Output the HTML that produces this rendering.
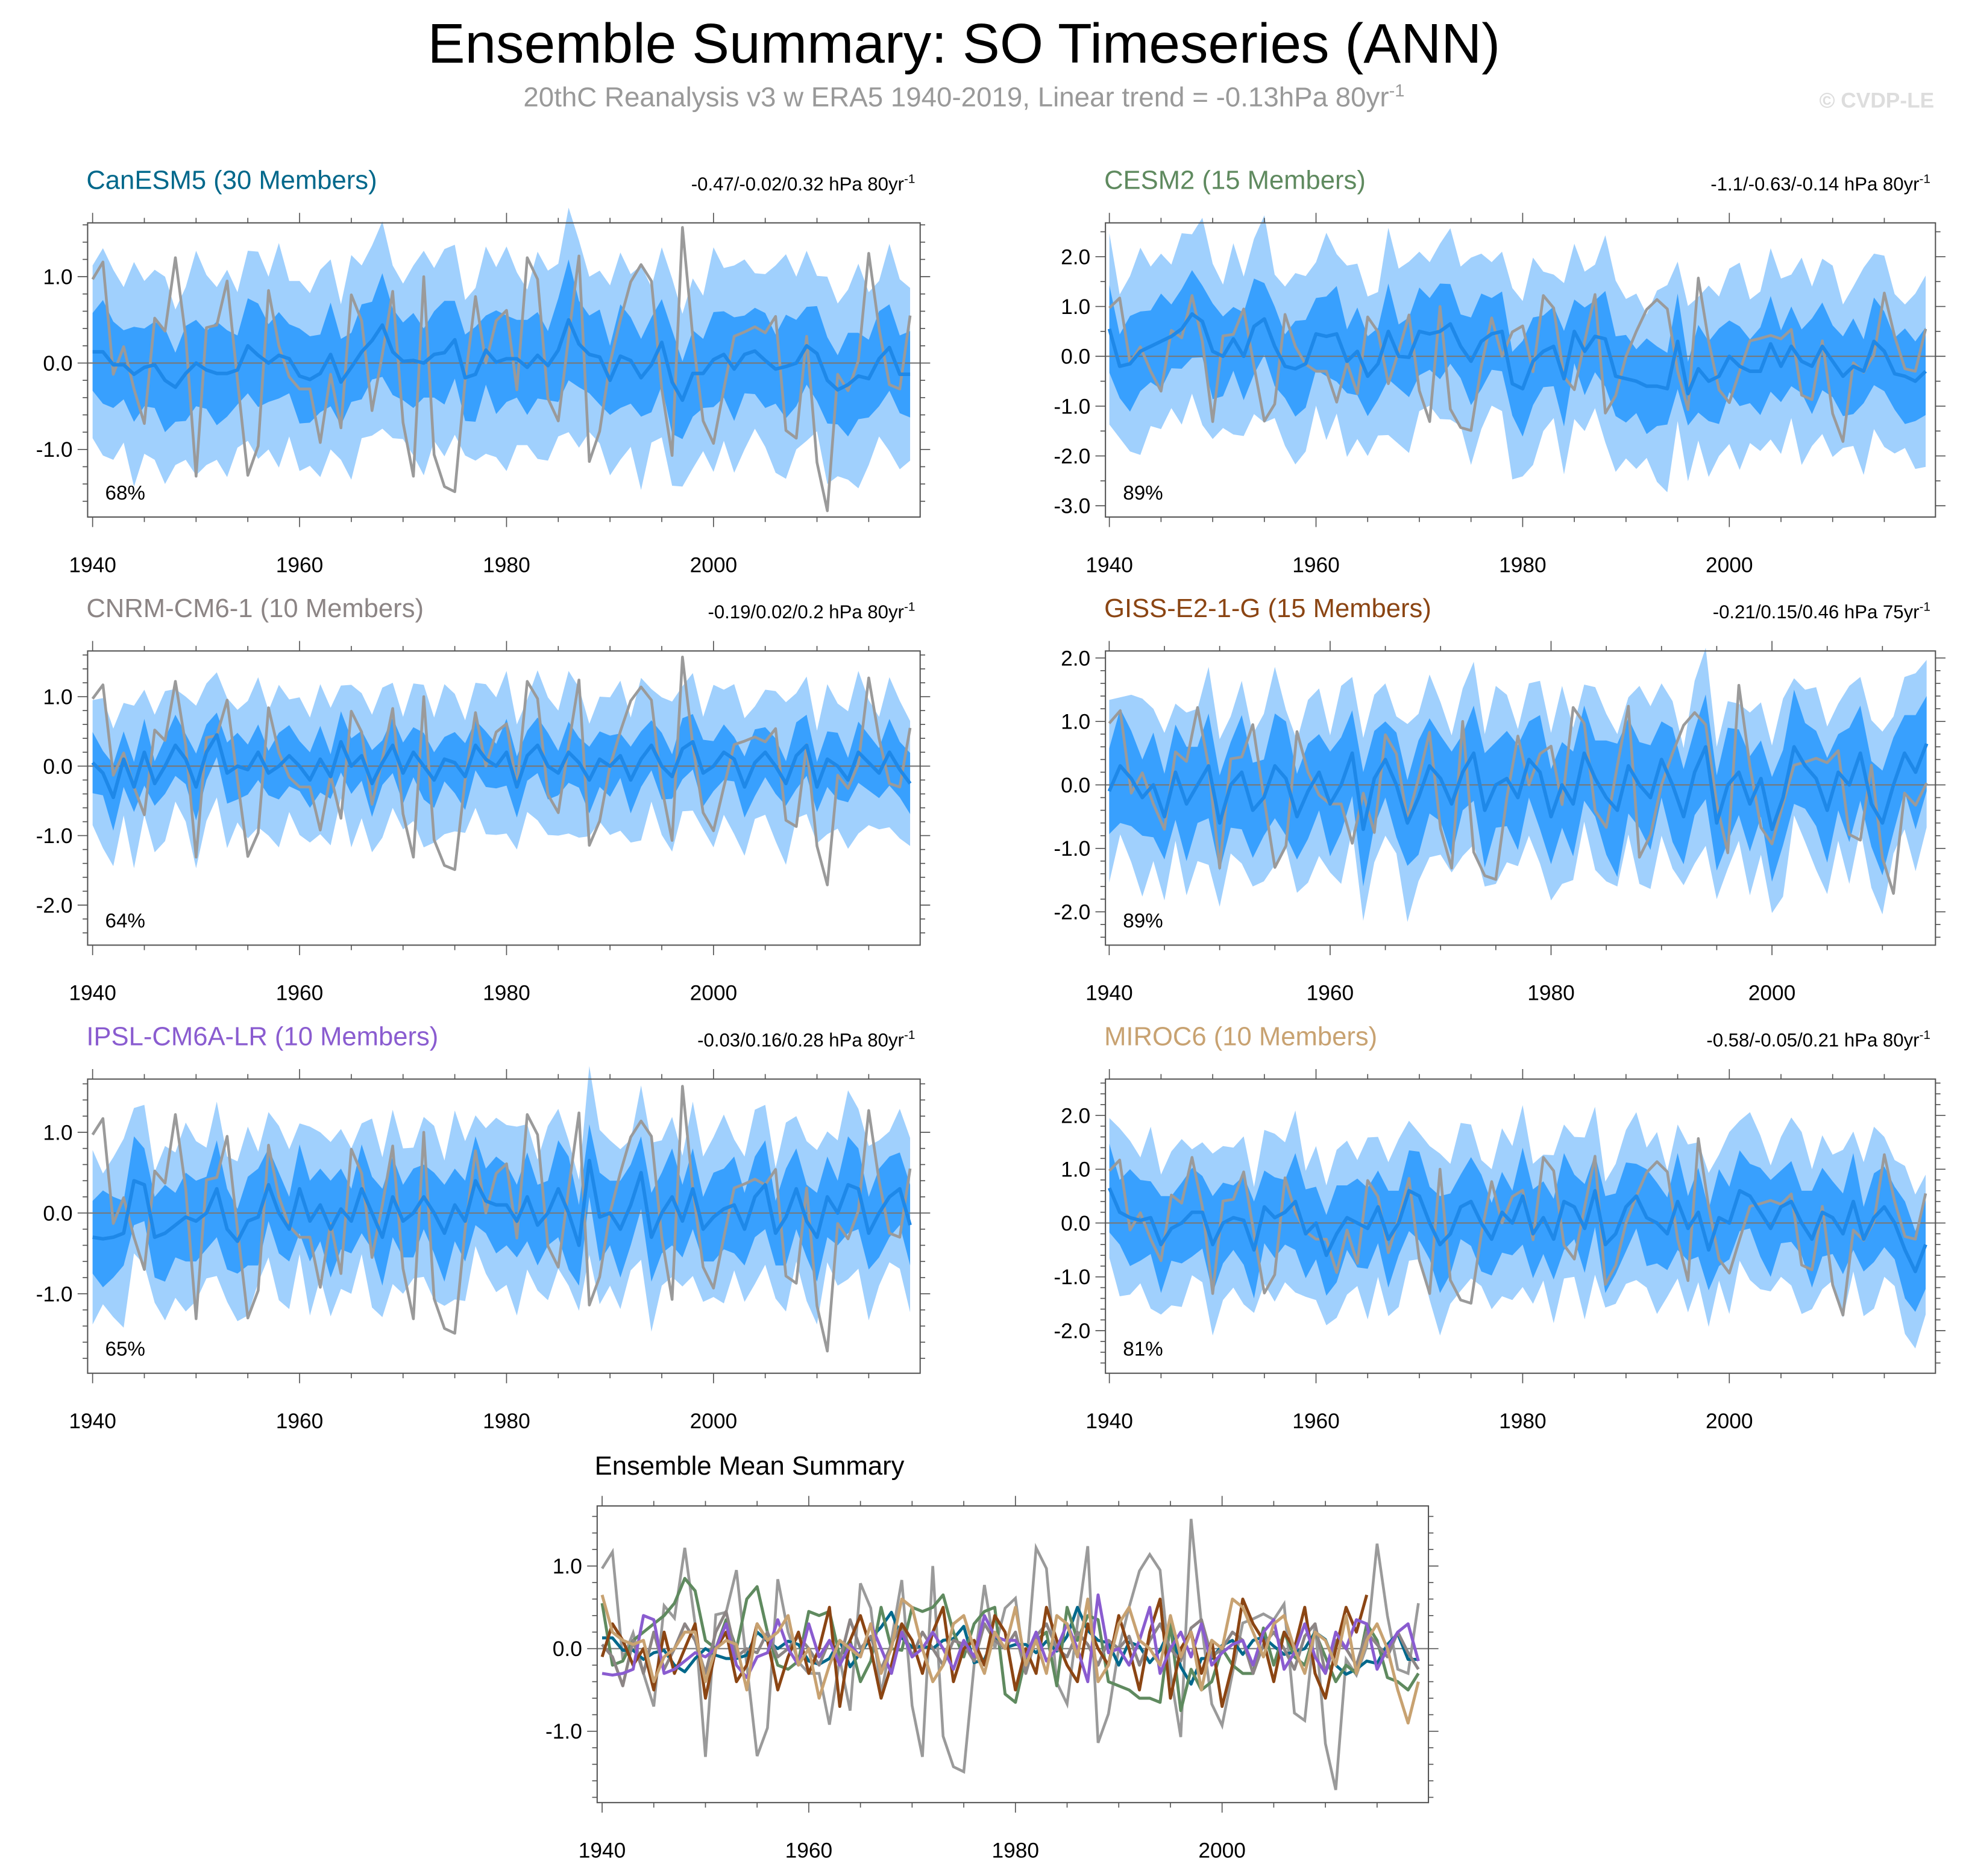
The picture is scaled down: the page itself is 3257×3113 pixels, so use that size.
<!DOCTYPE html>
<html><head><meta charset="utf-8"><style>
html,body{margin:0;padding:0;background:#fff;}
svg{display:block;font-family:"Liberation Sans",sans-serif;}
</style></head><body>
<svg id="chart" width="3257" height="3113" viewBox="0 0 1568 1498.6" xmlns="http://www.w3.org/2000/svg">
<rect width="1568" height="1500" fill="#fff"/>
<text x="770" y="50" font-size="44.7" text-anchor="middle" fill="#000">Ensemble Summary: SO Timeseries (ANN)</text>
<text x="770" y="85" font-size="22" text-anchor="middle" fill="#999">20thC Reanalysis v3 w ERA5 1940-2019, Linear trend = -0.13hPa 80yr<tspan font-size="14" dy="-8">-1</tspan></text>
<text x="1545" y="86" font-size="17" font-weight="bold" text-anchor="end" fill="#ddd">© CVDP-LE</text>
<g id="plots"></g>
</svg>
<script>
const years = [];
for (let y = 1940; y <= 2019; y++) years.push(y);
const obs = [0.97,1.17,-0.13,0.19,-0.3,-0.7,0.52,0.37,1.22,0.3,-1.31,0.41,0.44,0.95,-0.2,-1.3,-0.96,0.84,0.2,-0.16,-0.3,-0.3,-0.92,-0.13,-0.75,0.79,0.49,-0.55,0.1,0.83,-0.69,-1.31,1.0,-1.06,-1.43,-1.49,-0.2,0.77,0.0,0.49,0.61,-0.31,1.22,0.97,-0.41,-0.67,0.3,1.24,-1.14,-0.79,0.0,0.5,0.94,1.14,0.95,-0.3,-1.07,1.57,0.3,-0.67,-0.93,-0.3,0.31,0.36,0.42,0.35,0.54,-0.78,-0.87,0.31,-1.15,-1.71,-0.13,-0.32,0.03,1.27,0.4,-0.25,-0.3,0.55];
const meanCanESM5 = [0.13,0.13,-0.02,-0.02,-0.13,-0.05,-0.02,-0.2,-0.28,-0.12,0.0,-0.08,-0.12,-0.12,-0.08,0.2,0.09,0.0,0.09,0.05,-0.15,-0.19,-0.12,0.1,-0.22,-0.05,0.13,0.26,0.44,0.13,0.02,0.03,0.0,0.1,0.12,0.27,-0.17,-0.13,0.15,0.01,0.05,0.05,-0.05,0.09,-0.03,0.15,0.5,0.22,0.1,0.07,-0.2,0.08,0.03,-0.17,-0.02,0.24,-0.22,-0.43,-0.12,-0.12,0.04,0.1,-0.07,0.1,0.14,0.03,-0.07,-0.04,0.0,0.2,0.11,-0.2,-0.31,-0.25,-0.15,-0.18,0.05,0.18,-0.13,-0.13];
const meanCESM2 = [0.55,-0.2,-0.15,0.1,0.2,0.3,0.4,0.55,0.85,0.7,0.1,0.0,0.35,0.0,0.6,0.75,0.2,-0.2,-0.25,-0.15,0.45,0.4,0.45,-0.1,0.1,-0.4,-0.15,0.5,0.0,-0.02,0.5,0.45,0.5,0.65,0.2,-0.1,0.3,0.45,0.5,-0.55,-0.65,-0.1,0.1,0.2,-0.45,0.5,0.1,0.4,0.35,-0.4,-0.45,-0.5,-0.6,-0.6,-0.65,0.3,-0.75,-0.25,-0.5,-0.4,0.0,-0.2,-0.3,-0.3,0.25,-0.2,0.2,-0.1,-0.2,0.2,-0.1,-0.4,-0.2,-0.3,0.3,0.1,-0.35,-0.4,-0.5,-0.3];
const meanCNRM = [0.05,-0.1,-0.45,0.1,-0.3,0.2,-0.25,0.0,0.3,0.1,-0.3,0.2,0.45,-0.1,0.0,-0.05,0.2,-0.1,0.0,0.15,0.0,-0.2,0.1,-0.15,0.35,0.0,0.15,-0.25,0.05,0.3,-0.1,0.2,0.0,-0.2,0.1,0.05,-0.15,0.3,0.1,0.0,0.2,-0.3,0.15,0.3,0.0,-0.1,0.2,0.05,-0.2,0.1,0.0,0.15,-0.2,0.1,0.3,0.0,-0.15,0.25,0.35,-0.1,0.0,0.2,0.1,-0.3,0.05,0.2,0.0,-0.25,0.15,0.3,-0.3,0.1,0.0,-0.2,0.2,0.05,-0.1,0.2,-0.05,-0.25];
const meanGISS = [-0.1,0.3,0.1,-0.2,0.0,-0.5,0.2,-0.3,0.0,0.3,-0.6,0.0,0.2,-0.4,-0.2,0.3,0.1,-0.5,-0.1,0.2,-0.3,0.0,0.5,-0.7,0.1,0.4,0.0,-0.6,-0.2,0.3,0.1,-0.3,0.2,0.5,-0.4,0.0,0.1,-0.2,0.4,0.2,-0.5,0.0,-0.3,0.5,0.1,-0.2,-0.4,0.3,0.0,-0.2,0.4,0.0,-0.5,0.2,0.6,-0.6,0.0,0.2,-0.3,0.1,-0.7,-0.2,0.6,0.3,0.1,-0.4,0.2,0.0,0.5,-0.3,-0.6,0.0,0.5,0.2,0.65];
const meanIPSL = [-0.3,-0.32,-0.3,-0.25,0.4,0.35,-0.3,-0.25,-0.15,-0.05,-0.1,0.0,0.3,-0.2,-0.35,-0.1,-0.05,0.35,0.0,-0.2,0.3,-0.1,0.1,-0.2,0.05,-0.1,0.3,0.0,-0.3,0.2,-0.1,0.0,0.2,0.0,-0.25,0.1,-0.1,0.4,0.15,0.1,0.1,-0.1,0.2,-0.15,0.0,0.3,0.0,-0.4,0.65,-0.05,0.0,-0.2,0.1,0.5,-0.3,0.0,0.2,-0.1,0.3,-0.2,-0.05,0.05,0.1,-0.2,0.2,0.35,-0.25,-0.05,0.3,-0.1,-0.3,0.2,0.0,0.35,0.3,-0.25,0.0,0.2,0.3,-0.15];
const meanMIROC6 = [0.65,0.2,0.1,0.05,0.1,-0.4,-0.1,0.0,0.2,0.2,-0.4,0.0,0.1,0.05,-0.5,0.3,0.1,0.2,0.4,-0.2,0.0,-0.6,-0.2,0.1,0.0,-0.1,0.3,-0.3,0.0,0.6,0.5,0.0,-0.4,-0.2,0.3,0.4,0.0,-0.3,0.2,0.0,0.5,-0.2,0.1,-0.3,0.4,0.3,-0.1,0.6,-0.4,-0.2,0.3,0.5,0.1,0.0,-0.2,0.4,-0.1,0.2,-0.5,0.1,0.0,0.6,0.5,0.2,-0.1,0.3,0.4,0.0,-0.3,0.2,0.1,-0.2,0.4,-0.3,0.1,0.3,0.0,-0.5,-0.9,-0.4];
const innerA = [0.45,0.6,0.5,0.4,0.55,0.45,0.5,0.6,0.4,0.55,0.5,0.45,0.6,0.5,0.4,0.55,0.6,0.45,0.5,0.4,0.55,0.5,0.45,0.6,0.5,0.4,0.55,0.45,0.6,0.5,0.45,0.55,0.4,0.5,0.6,0.45,0.5,0.55,0.4,0.6,0.5,0.45,0.55,0.5,0.4,0.6,0.7,0.5,0.45,0.55,0.4,0.6,0.5,0.45,0.55,0.5,0.6,0.45,0.5,0.4,0.55,0.5,0.6,0.45,0.5,0.55,0.4,0.6,0.5,0.45,0.55,0.5,0.4,0.6,0.5,0.45,0.55,0.5,0.45,0.5];
const innerB = [0.55,0.4,0.6,0.5,0.45,0.6,0.4,0.5,0.55,0.45,0.6,0.5,0.4,0.55,0.6,0.45,0.5,0.4,0.6,0.55,0.45,0.5,0.6,0.4,0.55,0.5,0.45,0.6,0.4,0.5,0.55,0.45,0.6,0.5,0.4,0.55,0.6,0.45,0.5,0.4,0.6,0.55,0.45,0.5,0.6,0.4,0.55,0.45,0.6,0.5,0.55,0.4,0.6,0.5,0.45,0.6,0.4,0.55,0.5,0.6,0.45,0.5,0.4,0.55,0.6,0.45,0.5,0.4,0.6,0.55,0.45,0.5,0.6,0.4,0.55,0.5,0.45,0.6,0.5,0.55];
const outerA = [1.0,1.2,1.1,0.9,1.3,1.0,1.1,1.2,0.9,1.0,1.3,1.1,1.0,1.2,0.9,1.1,1.2,1.0,1.3,0.9,1.1,1.0,1.2,1.1,0.9,1.3,1.0,1.1,1.2,1.0,0.9,1.1,1.3,1.0,1.2,1.1,0.9,1.0,1.2,1.1,1.3,1.0,0.9,1.2,1.1,1.0,1.3,1.2,0.9,1.0,1.1,1.2,1.0,1.3,0.9,1.1,1.2,1.0,1.1,0.9,1.3,1.0,1.2,1.1,0.9,1.0,1.2,1.3,1.0,1.1,0.9,1.2,1.0,1.1,1.3,1.0,0.9,1.2,1.1,1.0];
const outerB = [1.2,0.9,1.1,1.3,1.0,1.1,0.9,1.2,1.0,1.3,1.1,0.9,1.2,1.0,1.1,1.3,0.9,1.0,1.2,1.1,0.9,1.3,1.0,1.2,1.1,1.0,0.9,1.3,1.1,1.2,1.0,0.9,1.1,1.2,1.0,1.3,1.1,0.9,1.0,1.2,1.1,1.3,1.0,0.9,1.2,1.1,1.0,0.9,1.3,1.2,1.0,1.1,0.9,1.2,1.3,1.0,1.1,0.9,1.2,1.0,1.1,1.3,0.9,1.0,1.2,1.1,0.9,1.3,1.0,1.1,1.2,0.9,1.0,1.3,1.1,1.2,1.0,0.9,1.1,1.2];
const yearTicks = [1940,1960,1980,2000];

const NS = 'http://www.w3.org/2000/svg';
const root = document.getElementById('plots');
function mk(tag, attrs, parent) {
  const e = document.createElementNS(NS, tag);
  for (const k in attrs) e.setAttribute(k, attrs[k]);
  (parent || root).appendChild(e);
  return e;
}
function fmt(v){ return v.toFixed(1); }

const panels = [
  {key:'canesm5', title:'CanESM5 (30 Members)', tcol:'#00688b', trend:'-0.47/-0.02/0.32 hPa 80yr', pct:'68%', L:70,T:178,R:735,B:413, y0:290, ppu:69, yt:[-1,0,1], mean:meanCanESM5, inner:innerA, outer:outerA, si:1.0, so:1.0, n:80, x0:1939.52, x1:2019.97},
  {key:'cesm2', title:'CESM2 (15 Members)', tcol:'#5f8a5f', trend:'-1.1/-0.63/-0.14 hPa 80yr', pct:'89%', L:883,T:178,R:1546,B:413, y0:284.6, ppu:39.8, yt:[-3,-2,-1,0,1,2], mean:meanCESM2, inner:innerB, outer:outerB, si:1.6, so:1.6, n:80, x0:1939.62, x1:2019.95},
  {key:'cnrm', title:'CNRM-CM6-1 (10 Members)', tcol:'#8c8585', trend:'-0.19/0.02/0.2 hPa 80yr', pct:'64%', L:70,T:520,R:735,B:755, y0:612, ppu:55.5, yt:[-2,-1,0,1], mean:meanCNRM, inner:innerB, outer:outerA, si:0.8, so:0.9, n:80, x0:1939.52, x1:2019.97},
  {key:'giss', title:'GISS-E2-1-G (15 Members)', tcol:'#8b4513', trend:'-0.21/0.15/0.46 hPa 75yr', pct:'89%', L:883,T:520,R:1546,B:755, y0:627, ppu:50.7, yt:[-2,-1,0,1,2], mean:meanGISS, inner:innerA, outer:outerB, si:1.5, so:1.2, n:75, x0:1939.66, x1:2014.8},
  {key:'ipsl', title:'IPSL-CM6A-LR (10 Members)', tcol:'#8a5cd0', trend:'-0.03/0.16/0.28 hPa 80yr', pct:'65%', L:70,T:862,R:735,B:1097, y0:969, ppu:64.5, yt:[-1,0,1], mean:meanIPSL, inner:innerA, outer:outerB, si:1.0, so:0.9, n:80, x0:1939.52, x1:2019.97},
  {key:'miroc6', title:'MIROC6 (10 Members)', tcol:'#c8a271', trend:'-0.58/-0.05/0.21 hPa 80yr', pct:'81%', L:883,T:862,R:1546,B:1097, y0:977, ppu:43, yt:[-2,-1,0,1,2], mean:meanMIROC6, inner:innerB, outer:outerA, si:1.5, so:1.3, n:80, x0:1939.62, x1:2019.95}
];

function axes(p) {
  const xs = yr => p.L + (yr - p.x0) / (p.x1 - p.x0) * (p.R - p.L);
  const ys = v => p.y0 - v * p.ppu;
  return {xs, ys};
}

function frame(p, g, xs, ys, minorStep) {
  mk('rect', {x:p.L, y:p.T, width:p.R-p.L, height:p.B-p.T, fill:'none', stroke:'#555', 'stroke-width':1}, g);
  const lastYear = p.n === 75 ? 2014 : 2019;
  for (let yr = 1940; yr <= lastYear; yr += 5) {
    const x = xs(yr), len = (yr % 20 === 0) ? 8 : 4;
    mk('line', {x1:x, y1:p.T, x2:x, y2:p.T-len, stroke:'#555', 'stroke-width':0.8}, g);
    mk('line', {x1:x, y1:p.B, x2:x, y2:p.B+len, stroke:'#555', 'stroke-width':0.8}, g);
  }
  const lo = Math.ceil((p.y0 - p.B) / p.ppu / minorStep), hi = Math.floor((p.y0 - p.T) / p.ppu / minorStep);
  for (let k = lo; k <= hi; k++) {
    const v = k * minorStep, y = ys(v);
    const major = Math.abs(v - Math.round(v)) < 1e-6;
    const len = major ? 8 : 4;
    mk('line', {x1:p.L, y1:y, x2:p.L-len, y2:y, stroke:'#555', 'stroke-width':0.8}, g);
    mk('line', {x1:p.R, y1:y, x2:p.R+len, y2:y, stroke:'#555', 'stroke-width':0.8}, g);
  }
  p.yt.forEach(v => {
    const t = mk('text', {x:p.L-12, y:ys(v)+6, 'font-size':17, 'text-anchor':'end', fill:'#000'}, g);
    
    
    t.textContent = fmt(v);
  });
  yearTicks.forEach(yr => {
    const t = mk('text', {x:xs(yr), y:p.B+44, 'font-size':17, 'text-anchor':'middle', fill:'#000'}, g);
    
    
    t.textContent = yr;
  });
}

function linePath(arr, n, xs, ys) {
  let d = '';
  for (let i = 0; i < n; i++) d += (i ? 'L' : 'M') + xs(years[i]).toFixed(2) + ',' + ys(arr[i]).toFixed(2);
  return d;
}
function bandPath(mean, spread, scale, n, xs, ys) {
  let d = '';
  for (let i = 0; i < n; i++) d += (i ? 'L' : 'M') + xs(years[i]).toFixed(2) + ',' + ys(mean[i] + spread[i]*scale).toFixed(2);
  for (let i = n - 1; i >= 0; i--) d += 'L' + xs(years[i]).toFixed(2) + ',' + ys(mean[i] - spread[i]*scale).toFixed(2);
  return d + 'Z';
}

panels.forEach(p => {
  const g = mk('g', {});
  
  
  const {xs, ys} = axes(p);
  const outer = mk('path', {d: bandPath(p.mean, p.outer, p.so, p.n, xs, ys), fill:'#a0d0fd'}, g);
  
  
  const inner = mk('path', {d: bandPath(p.mean, p.inner, p.si, p.n, xs, ys), fill:'#38a0fe'}, g);
  
  
  const z = mk('line', {x1:p.L, x2:p.R, y1:ys(0), y2:ys(0), stroke:'#777', 'stroke-width':1}, g);
  
  
  const ob = mk('path', {d: linePath(obs, p.n, xs, ys), fill:'none', stroke:'#9a9a9a', 'stroke-width':2.2, 'stroke-linejoin':'round'}, g);
  
  
  const m = mk('path', {d: linePath(p.mean, p.n, xs, ys), fill:'none', stroke:'#1e88e8', 'stroke-width':2.8, 'stroke-linejoin':'round'}, g);
  
  
  frame(p, g, xs, ys, p.key === 'cesm2' ? 0.5 : 0.2);
  const t = mk('text', {x:p.L-1, y:p.T-27, 'font-size':21, fill:p.tcol}, g);
  
  
  t.textContent = p.title;
  const tr = mk('text', {x:p.R-4, y:p.T-26, 'font-size':15, 'text-anchor':'end', fill:'#000'}, g);
  
  
  tr.textContent = p.trend;
  const sup = mk('tspan', {'font-size':10, dy:-6}, tr);
  sup.textContent = '-1';
  const pc = mk('text', {x:p.L+14, y:p.B-14, 'font-size':16, fill:'#000'}, g);
  
  
  pc.textContent = p.pct;
});

// Ensemble mean summary
const S = {key:'summary', L:477, T:1203, R:1141, B:1440, y0:1317, ppu:66, yt:[-1,0,1], n:80, x0:1939.52, x1:2019.97};
const sg = mk('g', {});


const sa = axes(S);
const sz = mk('line', {x1:S.L, x2:S.R, y1:sa.ys(0), y2:sa.ys(0), stroke:'#777', 'stroke-width':1}, sg);


const sob = mk('path', {d: linePath(obs, 80, sa.xs, sa.ys), fill:'none', stroke:'#9a9a9a', 'stroke-width':2.2}, sg);


panels.forEach(p => {
  const l = mk('path', {d: linePath(p.mean, p.n, sa.xs, sa.ys), fill:'none', stroke:p.tcol, 'stroke-width':2.4, 'stroke-linejoin':'round'}, sg);
  
  
});
frame(S, sg, sa.xs, sa.ys, 0.2);
const st = mk('text', {x:475, y:1178, 'font-size':21, fill:'#000'}, sg);


st.textContent = 'Ensemble Mean Summary';
</script>
</body></html>
